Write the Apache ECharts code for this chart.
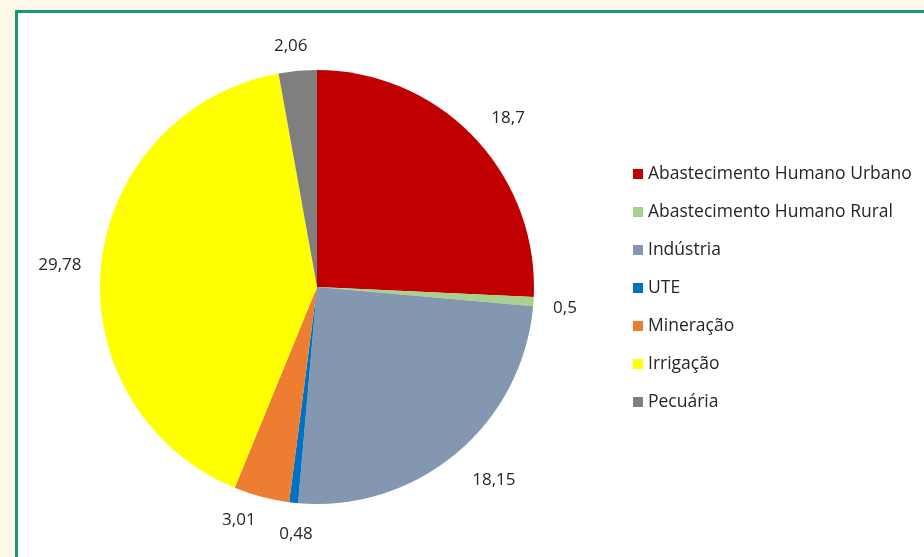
<!DOCTYPE html>
<html>
<head>
<meta charset="utf-8">
<script src="https://cdn.jsdelivr.net/npm/echarts@6/dist/echarts.min.js"></script>
<style>
  html, body { margin: 0; padding: 0; width: 924px; height: 557px; background: #fffbe8; overflow: hidden; }
  #frame { position: absolute; left: 15px; top: 10px; width: 940px; height: 600px; border: 3px solid #17997a; background: #ffffff; box-sizing: border-box; }
  #chart { position: absolute; left: 0; top: 0; width: 924px; height: 557px; }
</style>
</head>
<body>
<div id="frame"></div>
<div id="chart"></div>
<script>
const categories = ["Abastecimento Humano Urbano", "Abastecimento Humano Rural", "Indústria", "UTE", "Mineração", "Irrigação", "Pecuária"];
const values = [18.7, 0.5, 18.15, 0.48, 3.01, 29.78, 2.06];
const valueLabels = ["18,7", "0,5", "18,15", "0,48", "3,01", "29,78", "2,06"];
const colors = ["#C00000", "#A9D18E", "#8497B0", "#0070C0", "#ED7D31", "#FFFF00", "#7F7F7F"];
// small label nudges (layout only), mimicking the original label placement
const labelNudges = [[10, 4], [-2, 4], [16, 1], [6, -2], [-14, -9], [-8, 5], [-4, 9]];

const chart = echarts.init(document.getElementById('chart'));
const mainData = categories.map((c, i) => ({ name: c, value: values[i], itemStyle: { color: colors[i] } }));
const labelData = categories.map((c, i) => ({
  name: c, value: values[i],
  label: { formatter: valueLabels[i], offset: labelNudges[i] }
}));

chart.setOption({
  animation: false,
  backgroundColor: 'transparent',
  legend: {
    orient: 'vertical',
    left: 628,
    top: 159,
    icon: 'rect',
    itemWidth: 10,
    itemHeight: 10,
    itemGap: 18,
    data: categories,
    textStyle: { fontFamily: 'Open Sans', fontSize: 17.5, color: '#262626', lineHeight: 20 }
  },
  series: [
    {
      type: 'pie',
      center: [317, 287],
      radius: [0, 217],
      startAngle: 90,
      clockwise: true,
      label: { show: false },
      labelLine: { show: false },
      itemStyle: { borderWidth: 0 },
      data: mainData
    },
    {
      type: 'pie',
      silent: true,
      center: [317, 287],
      radius: [217, 278],
      startAngle: 90,
      clockwise: true,
      itemStyle: { color: 'rgba(0,0,0,0)', borderWidth: 0 },
      label: { show: true, position: 'inside', fontFamily: 'Open Sans', fontSize: 17, color: '#262626' },
      labelLine: { show: false },
      data: labelData
    }
  ]
});
</script>
</body>
</html>
